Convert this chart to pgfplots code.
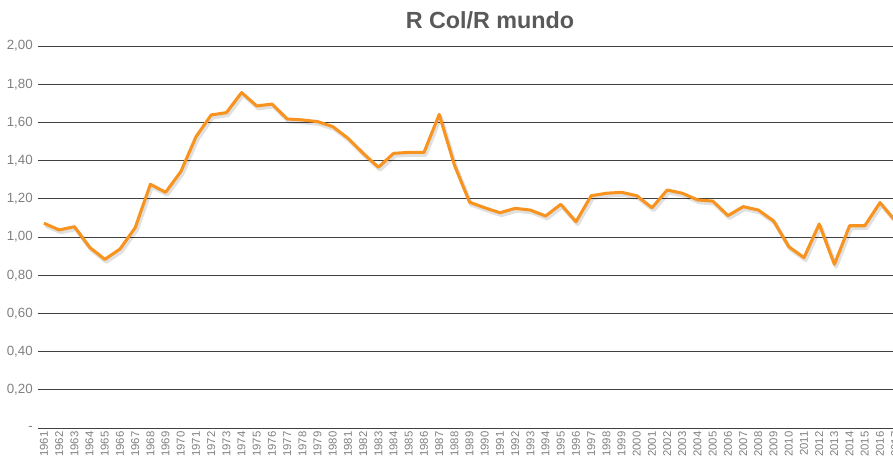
\documentclass[border=0pt]{standalone}
\usepackage{fontspec}
\setmainfont{Liberation Sans}
\usepackage{pgfplots}
\usepackage{pgfplotstable}
\pgfplotsset{compat=1.18}
\definecolor{cLine}{HTML}{F7931E}
\definecolor{cGrid}{HTML}{404040}
\definecolor{cLab}{HTML}{808080}
\definecolor{cTitle}{HTML}{595959}

\pgfplotstableread{
year ratio
1961 1.072
1962 1.037
1963 1.054
1964 0.946
1965 0.883
1966 0.937
1967 1.049
1968 1.276
1969 1.234
1970 1.342
1971 1.525
1972 1.639
1973 1.651
1974 1.756
1975 1.686
1976 1.696
1977 1.618
1978 1.613
1979 1.604
1980 1.578
1981 1.517
1982 1.438
1983 1.365
1984 1.438
1985 1.443
1986 1.443
1987 1.642
1988 1.377
1989 1.182
1990 1.153
1991 1.127
1992 1.150
1993 1.141
1994 1.110
1995 1.171
1996 1.080
1997 1.216
1998 1.229
1999 1.234
2000 1.216
2001 1.153
2002 1.246
2003 1.229
2004 1.194
2005 1.188
2006 1.112
2007 1.159
2008 1.141
2009 1.084
2010 0.949
2011 0.892
2012 1.068
2013 0.857
2014 1.059
2015 1.059
2016 1.180
2017 1.085
}\ratiodata

\begin{document}
\begin{tikzpicture}
\path[use as bounding box] (0,0) rectangle (669.75pt,346.5pt);
\clip (0,0) rectangle (669.75pt,346.5pt);
\node[font=\fontsize{17.5}{20}\selectfont\bfseries, text=cTitle] at (367.5pt,331.5pt) {R Col/R mundo};
\begin{axis}[
  at={(28.5pt,25.5pt)}, anchor=south west,
  scale only axis, width=648.6pt, height=286.5pt,
  xmin=1960.605, xmax=2017.5, ymin=0, ymax=2,
  axis line style={draw=none},
  major tick length=0pt,
  /pgf/number format/assume math mode=true,
  ytick={0,0.2,...,2.01},
  yticklabels={{-},{0,20},{0,40},{0,60},{0,80},{1,00},{1,20},{1,40},{1,60},{1,80},{2,00}},
  yticklabel style={font=\fontsize{10}{12}\selectfont, text=cLab, anchor=east, inner sep=0pt},
  yticklabel shift=3.75pt,
  xtick={1961,1962,...,2017},
  xticklabel style={font=\fontsize{8.5}{10}\selectfont, text=cLab, rotate=90, anchor=east,
    inner sep=0pt, /pgf/number format/1000 sep={}, /pgf/number format/fixed,
    /pgf/number format/precision=0},
  xticklabel shift=2.5pt,
  ymajorgrids, grid style={cGrid, line width=0.75pt},
  clip=false,
]
\addplot[black, opacity=0.12, line width=3pt, xshift=1.2pt, yshift=-1.8pt, line join=round]
  table[x=year, y=ratio] {\ratiodata};
\addplot[cLine, line width=2.3pt, line join=round]
  table[x=year, y=ratio] {\ratiodata};
\end{axis}
\end{tikzpicture}
\end{document}
